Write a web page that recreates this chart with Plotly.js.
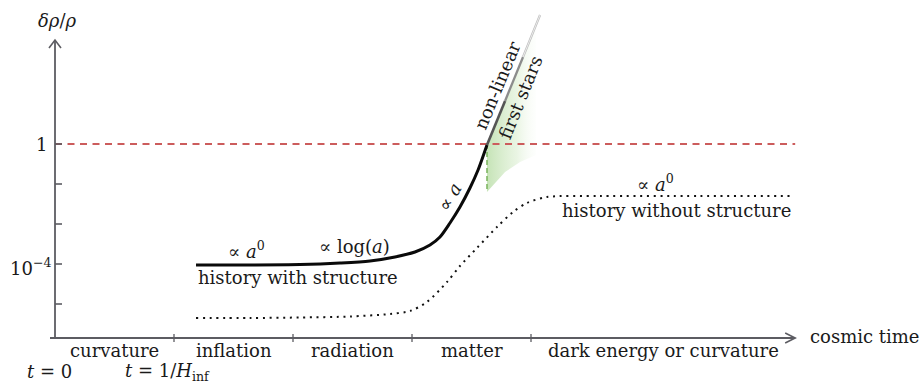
<!DOCTYPE html>
<html>
<head>
<meta charset="utf-8">
<script src="https://cdn.plot.ly/plotly-3.0.1.min.js"></script>
<style>html,body{margin:0;padding:0;background:#fff;}#chart{width:922px;height:383px;}</style>
</head>
<body>
<div id="chart"></div>
<script>
// ---------- data (x: cosmic-time eras, y: log10 of delta rho / rho) ----------
const eraNames = ['curvature', 'inflation', 'radiation', 'matter', 'dark energy or curvature'];
const eraEdges = [0, 1, 2, 3, 4, 6.22];
const xTickVals = [1, 2, 3, 4];
const yTickVals = [0, -4 / 3, -8 / 3, -4, -16 / 3];
const yTickText = ['1', '', '', '10<sup>−4</sup>', ''];
const timeMarkX = [0, 1];
const timeMarkText = ['<i>t</i> = 0', '<i>t</i> = 1/<i>H</i><sub>inf</sub>'];

const unityLevel = 0;             // delta rho / rho = 1
const xAxisEnd = 6.22;
const xAxisLevel = -6.467;
const yAxisTop = 3.467;

// history with structure (solid)
const withX = [1.185, 1.639, 2.059, 2.395, 2.647, 2.857, 3.025, 3.151, 3.235, 3.319, 3.403, 3.487, 3.555, 3.630];
const withY = [-4.03, -4.03, -4.017, -3.967, -3.90, -3.767, -3.60, -3.367, -3.10, -2.633, -2.10, -1.467, -0.867, -0.033];
// non-linear continuation
const nonlinX = [3.630, 3.782, 3.933, 4.076];
const nonlinY = [-0.033, 1.433, 2.900, 4.30];
// history without structure (dotted)
const withoutX = [1.185, 1.639, 2.059, 2.479, 2.815, 2.983, 3.126, 3.294, 3.403, 3.546, 3.714, 3.849, 3.966, 4.134, 4.580, 5.420, 6.202];
const withoutY = [-5.80, -5.80, -5.783, -5.75, -5.667, -5.567, -5.267, -4.60, -4.067, -3.467, -2.767, -2.267, -1.967, -1.767, -1.733, -1.733, -1.733];
// first stars region
const starsX = [3.630, 3.630, 3.782, 3.933, 4.042, 4.042, 3.908, 3.782, 3.630];
const starsY = [-1.60, 0.0, 1.433, 2.900, 3.967, -0.367, -0.60, -0.933, -1.60];
const starsEdgeX = [3.630, 3.630];
const starsEdgeY = [0, -1.60];

// ---------- layout helpers (pixel geometry) ----------
const W = 922, H = 383, OX = 55, SX = 119, OY = 144, SY = 30;
const px2x = p => (p - OX) / SX;
const py2y = p => (OY - p) / SY;
const FONT = 'DejaVu Serif';
const FS = 18;
const TXT = '#1a1a1a';
const AX = '#5c5c62';

const traces = [
  { x: starsX, y: starsY, mode: 'lines', fill: 'toself', line: { width: 0 },
    fillcolor: 'rgba(150,205,120,0.35)',
    fillgradient: { type: 'horizontal', start: 3.63, stop: 4.05,
      colorscale: [[0, 'rgba(140,200,110,0.50)'], [0.6, 'rgba(170,215,145,0.25)'], [1, 'rgba(230,245,225,0.05)']] },
    hoverinfo: 'skip', showlegend: false },
  { x: [0, xAxisEnd], y: [unityLevel, unityLevel], mode: 'lines',
    line: { color: '#cc5c5c', width: 1.8, dash: '7px,5.5px' }, hoverinfo: 'skip', showlegend: false },
  { x: starsEdgeX, y: starsEdgeY, mode: 'lines',
    line: { color: '#6aaa4a', width: 1.3, dash: '5px,3px' }, hoverinfo: 'skip', showlegend: false },
  { x: withoutX, y: withoutY, mode: 'lines',
    line: { color: '#111', width: 2, dash: '2px,4.7px', shape: 'spline', smoothing: 0.8 }, hoverinfo: 'skip', showlegend: false },
  { x: withX, y: withY, mode: 'lines',
    line: { color: '#0a0a0a', width: 3, shape: 'spline', smoothing: 0.8 }, hoverinfo: 'skip', showlegend: false },
  { x: nonlinX.slice(0, 2), y: nonlinY.slice(0, 2), mode: 'lines',
    line: { color: '#555', width: 2.6 }, hoverinfo: 'skip', showlegend: false },
  { x: nonlinX.slice(1, 3), y: nonlinY.slice(1, 3), mode: 'lines',
    line: { color: '#8c8c8c', width: 2.3 }, hoverinfo: 'skip', showlegend: false },
  { x: nonlinX.slice(2, 4), y: nonlinY.slice(2, 4), mode: 'lines',
    line: { color: '#bdbdbd', width: 2.2 }, hoverinfo: 'skip', showlegend: false },
  { x: nonlinX.slice(2, 4), y: nonlinY.slice(2, 4), mode: 'lines',
    line: { color: '#ffffff', width: 0.7 }, hoverinfo: 'skip', showlegend: false }
];

const shapes = [];
// axes
shapes.push({ type: 'line', xref: 'x', yref: 'y', x0: px2x(50), x1: xAxisEnd, y0: xAxisLevel, y1: xAxisLevel, line: { color: AX, width: 1.8 } });
shapes.push({ type: 'line', xref: 'x', yref: 'y', x0: 0, x1: 0, y0: xAxisLevel, y1: yAxisTop, line: { color: AX, width: 1.8 } });
// arrow heads (open)
const ax = 10 / SX, ah = 5 / SY, ayw = 6 / SX, ayh = 8 / SY;
shapes.push({ type: 'path', xref: 'x', yref: 'y', line: { color: AX, width: 1.6 },
  path: `M${xAxisEnd - ax},${xAxisLevel + ah} L${xAxisEnd},${xAxisLevel} L${xAxisEnd - ax},${xAxisLevel - ah}` });
shapes.push({ type: 'path', xref: 'x', yref: 'y', line: { color: AX, width: 1.6 },
  path: `M${-ayw},${yAxisTop - ayh} L0,${yAxisTop} L${ayw},${yAxisTop - ayh}` });
// ticks
yTickVals.forEach(v => shapes.push({ type: 'line', xref: 'x', yref: 'y', x0: 0, x1: 7 / SX, y0: v, y1: v, line: { color: AX, width: 1.6 } }));
xTickVals.forEach(v => shapes.push({ type: 'line', xref: 'x', yref: 'y', x0: v, x1: v, y0: xAxisLevel - 4 / SY, y1: xAxisLevel + 4 / SY, line: { color: AX, width: 1.3 } }));

const ann = [];
function A(text, x, y, opts) {
  ann.push(Object.assign({ text, x, y, xref: 'x', yref: 'y', showarrow: false,
    font: { family: FONT, size: FS, color: TXT }, xanchor: 'center', yanchor: 'middle' }, opts || {}));
}
// era labels
eraNames.forEach((n, i) => A(n, (eraEdges[i] + eraEdges[i + 1]) / 2, py2y(350)));
// time marks
A(timeMarkText[0], timeMarkX[0] - 6 / SX, py2y(371));
A(timeMarkText[1], timeMarkX[1] - 7 / SX, py2y(372));
// y tick labels
yTickVals.forEach((v, i) => { if (yTickText[i]) A(yTickText[i], px2x(i === 0 ? 49 : 53), v - (i === 0 ? 0.03 : 0.1), { xanchor: 'right' }); });
// axis titles
A('<i>δρ</i>/<i>ρ</i>', px2x(57), py2y(20));
A('cosmic time', px2x(865), py2y(336));
// curve annotations
A('∝ <i>a</i><sup>0</sup>', px2x(246), py2y(250));
A('∝ log(<i>a</i>)', px2x(354), py2y(246));
A('history with structure', px2x(298), py2y(277));
A('∝ <i>a</i><sup>0</sup>', px2x(655), py2y(183));
A('history without structure', px2x(676), py2y(210));
A('∝ <i>a</i>', px2x(449), py2y(197), { textangle: -60 });
A('non-linear', px2x(497), py2y(85), { textangle: -67.5 });
A('first stars', px2x(520), py2y(97), { textangle: -68 });

const layout = {
  width: W, height: H, margin: { l: 0, r: 0, t: 0, b: 0 },
  paper_bgcolor: '#fff', plot_bgcolor: '#fff', showlegend: false,
  font: { family: FONT, size: FS, color: TXT },
  xaxis: { range: [px2x(0), px2x(W)], visible: false, fixedrange: true },
  yaxis: { range: [py2y(H), py2y(0)], visible: false, fixedrange: true },
  shapes, annotations: ann
};
Plotly.newPlot('chart', traces, layout, { staticPlot: true, displayModeBar: false });
</script>
</body>
</html>
